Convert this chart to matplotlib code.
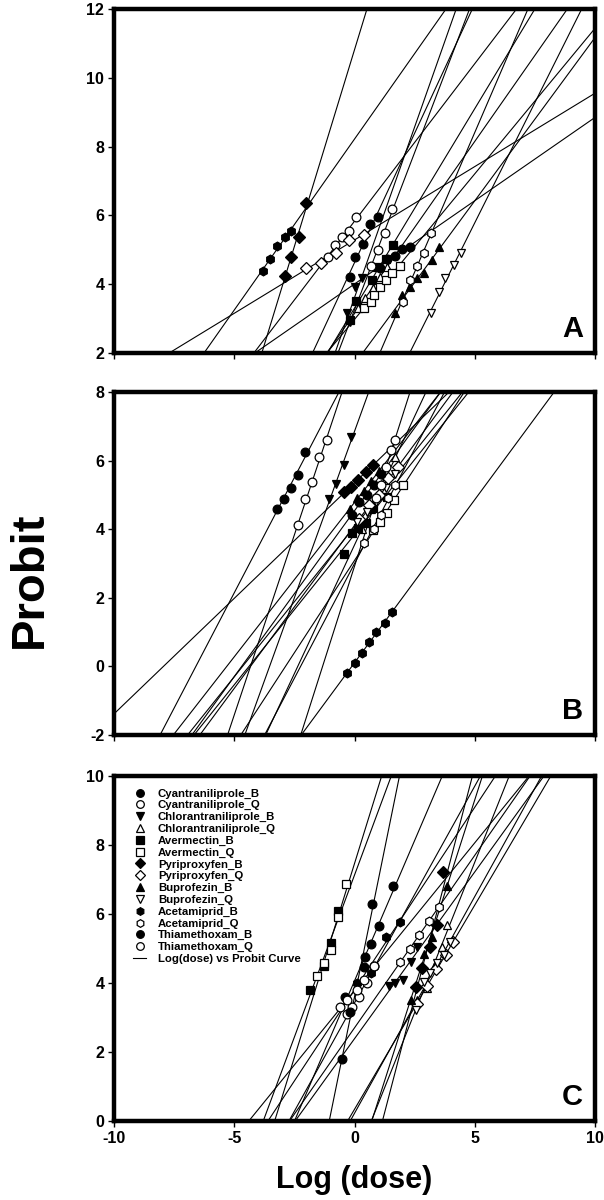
import numpy as np
import matplotlib
matplotlib.use('Agg')
import matplotlib.pyplot as plt
from matplotlib.lines import Line2D

plt.rcParams['font.family'] = ['Liberation Sans', 'DejaVu Sans']
plt.rcParams['font.weight'] = 'bold'
plt.rcParams['axes.unicode_minus'] = False

# series names and marker styles
names = ['Cyantraniliprole_B', 'Cyantraniliprole_Q', 'Chlorantraniliprole_B', 'Chlorantraniliprole_Q',
         'Avermectin_B', 'Avermectin_Q', 'Pyriproxyfen_B', 'Pyriproxyfen_Q',
         'Buprofezin_B', 'Buprofezin_Q', 'Acetamiprid_B', 'Acetamiprid_Q',
         'Thiamethoxam_B', 'Thiamethoxam_Q']
markers = ['o', 'o', 'v', '^', 's', 's', 'D', 'D', '^', 'v', 'h', 'h', 'o', 'o']

# panel A: log(dose) and probit per series
a_x = {
    'Cyantraniliprole_B': [-0.19, 0.04, 0.35, 0.65, 0.96],
    'Cyantraniliprole_Q': [-1.11, -0.80, -0.51, -0.21, 0.08],
    'Chlorantraniliprole_B': [-0.30, -0.17, 0.01, 0.32],
    'Chlorantraniliprole_Q': [0.15, 0.45, 0.75, 1.05, 1.35],
    'Avermectin_B': [-0.19, 0.08, 0.71, 0.94, 1.30, 1.59],
    'Avermectin_Q': [0.39, 0.67, 0.80, 1.08, 1.32, 1.57, 1.88],
    'Pyriproxyfen_B': [-2.91, -2.62, -2.32, -2.00],
    'Pyriproxyfen_Q': [-2.02, -1.41, -0.79, -0.21, 0.39],
    'Buprofezin_B': [1.70, 1.98, 2.30, 2.61, 2.91, 3.23, 3.51],
    'Buprofezin_Q': [3.19, 3.51, 3.78, 4.13, 4.41],
    'Acetamiprid_B': [-3.81, -3.51, -3.21, -2.91, -2.62],
    'Acetamiprid_Q': [2.00, 2.30, 2.61, 2.88, 3.19],
    'Thiamethoxam_B': [1.04, 1.36, 1.70, 1.98, 2.29],
    'Thiamethoxam_Q': [0.67, 0.97, 1.26, 1.57],
}
a_y = {
    'Cyantraniliprole_B': [4.22, 4.78, 5.17, 5.75, 5.94],
    'Cyantraniliprole_Q': [4.80, 5.15, 5.36, 5.55, 5.96],
    'Chlorantraniliprole_B': [3.15, 2.91, 3.93, 4.17],
    'Chlorantraniliprole_Q': [3.30, 3.60, 3.90, 4.20, 4.50],
    'Avermectin_B': [2.96, 3.52, 4.12, 4.51, 4.72, 5.14],
    'Avermectin_Q': [3.30, 3.49, 3.69, 3.91, 4.12, 4.32, 4.53],
    'Pyriproxyfen_B': [4.24, 4.78, 5.36, 6.35],
    'Pyriproxyfen_Q': [4.47, 4.63, 4.90, 5.28, 5.43],
    'Buprofezin_B': [3.17, 3.69, 3.93, 4.17, 4.33, 4.70, 5.07],
    'Buprofezin_Q': [3.15, 3.78, 4.17, 4.56, 4.90],
    'Acetamiprid_B': [4.39, 4.72, 5.11, 5.36, 5.55],
    'Acetamiprid_Q': [3.49, 4.12, 4.53, 4.90, 5.50],
    'Thiamethoxam_B': [4.46, 4.72, 4.82, 5.01, 5.07],
    'Thiamethoxam_Q': [4.53, 4.99, 5.50, 6.18],
}

# panel B
b_x = {
    'Cyantraniliprole_B': [-3.24, -2.94, -2.66, -2.36, -2.05],
    'Cyantraniliprole_Q': [-2.34, -2.04, -1.75, -1.46, -1.15],
    'Chlorantraniliprole_B': [-1.07, -0.75, -0.44, -0.14],
    'Chlorantraniliprole_Q': [0.30, 0.70, 1.00, 1.30, 1.70],
    'Avermectin_B': [-0.44, -0.12, 0.15, 0.46, 0.76, 1.36],
    'Avermectin_Q': [0.78, 1.05, 1.36, 1.66, 2.00],
    'Pyriproxyfen_B': [-0.44, -0.14, 0.15, 0.46, 0.76],
    'Pyriproxyfen_Q': [0.20, 0.60, 1.00, 1.40, 1.80],
    'Buprofezin_B': [-0.20, 0.10, 0.40, 0.70, 1.00],
    'Buprofezin_Q': [0.10, 0.50, 0.90, 1.30, 1.70],
    'Acetamiprid_B': [-0.30, 0.00, 0.30, 0.60, 0.90, 1.26, 1.57],
    'Acetamiprid_Q': [0.40, 0.80, 1.10, 1.40, 1.70],
    'Thiamethoxam_B': [-0.10, 0.20, 0.50, 0.80, 1.10],
    'Thiamethoxam_Q': [0.90, 1.10, 1.30, 1.50, 1.70],
}
b_y = {
    'Cyantraniliprole_B': [4.60, 4.89, 5.21, 5.58, 6.24],
    'Cyantraniliprole_Q': [4.11, 4.87, 5.38, 6.11, 6.60],
    'Chlorantraniliprole_B': [4.87, 5.32, 5.86, 6.70],
    'Chlorantraniliprole_Q': [4.00, 4.60, 5.00, 5.50, 6.10],
    'Avermectin_B': [3.28, 3.90, 4.04, 4.17, 4.61, 4.95],
    'Avermectin_Q': [3.98, 4.22, 4.46, 4.85, 5.30],
    'Pyriproxyfen_B': [5.09, 5.22, 5.43, 5.68, 5.87],
    'Pyriproxyfen_Q': [4.30, 4.70, 5.00, 5.50, 5.80],
    'Buprofezin_B': [4.60, 4.90, 5.10, 5.40, 5.70],
    'Buprofezin_Q': [4.20, 4.50, 4.80, 5.20, 5.60],
    'Acetamiprid_B': [-0.20, 0.10, 0.40, 0.70, 1.00, 1.27, 1.59],
    'Acetamiprid_Q': [3.60, 4.00, 4.40, 4.90, 5.30],
    'Thiamethoxam_B': [4.40, 4.80, 5.00, 5.30, 5.60],
    'Thiamethoxam_Q': [4.90, 5.30, 5.80, 6.30, 6.60],
}

# panel C
c_x = {
    'Cyantraniliprole_B': [-0.39, 0.39, 0.69, 1.00, 1.60],
    'Cyantraniliprole_Q': [-0.30, -0.10, 0.20, 0.50, 0.80],
    'Chlorantraniliprole_B': [1.43, 1.70, 2.02, 2.33, 2.61],
    'Chlorantraniliprole_Q': [2.61, 3.02, 3.30, 3.64, 3.86],
    'Avermectin_B': [-1.86, -1.26, -0.97, -0.68],
    'Avermectin_Q': [-1.55, -1.26, -0.97, -0.68, -0.35],
    'Pyriproxyfen_B': [2.54, 2.81, 3.16, 3.44, 3.69],
    'Pyriproxyfen_Q': [2.60, 3.00, 3.40, 3.80, 4.10],
    'Buprofezin_B': [2.33, 2.91, 3.23, 3.83],
    'Buprofezin_Q': [2.54, 2.88, 3.16, 3.44, 3.71, 3.99],
    'Acetamiprid_B': [0.11, 0.67, 1.29, 1.91],
    'Acetamiprid_Q': [1.90, 2.30, 2.70, 3.10, 3.50],
    'Thiamethoxam_B': [-0.50, -0.19, 0.43, 0.73],
    'Thiamethoxam_Q': [-0.60, -0.30, 0.10, 0.40, 0.80],
}
c_y = {
    'Cyantraniliprole_B': [3.60, 4.47, 5.13, 5.65, 6.81],
    'Cyantraniliprole_Q': [3.10, 3.30, 3.60, 4.00, 4.50],
    'Chlorantraniliprole_B': [3.91, 4.01, 4.09, 4.62, 5.05],
    'Chlorantraniliprole_Q': [3.51, 3.85, 4.47, 5.05, 5.68],
    'Avermectin_B': [3.80, 4.50, 5.15, 6.10],
    'Avermectin_Q': [4.20, 4.57, 4.96, 5.90, 6.87],
    'Pyriproxyfen_B': [3.89, 4.43, 5.05, 5.68, 7.23],
    'Pyriproxyfen_Q': [3.40, 3.90, 4.40, 4.80, 5.20],
    'Buprofezin_B': [3.51, 4.84, 5.34, 6.81],
    'Buprofezin_Q': [3.22, 4.04, 4.28, 4.57, 4.81, 5.20],
    'Acetamiprid_B': [4.01, 4.30, 5.34, 5.78],
    'Acetamiprid_Q': [4.60, 5.00, 5.40, 5.80, 6.20],
    'Thiamethoxam_B': [1.80, 3.17, 4.74, 6.29],
    'Thiamethoxam_Q': [3.30, 3.50, 3.80, 4.10, 4.50],
}

panels = [('A', a_x, a_y, (2, 12)), ('B', b_x, b_y, (-2, 8)), ('C', c_x, c_y, (0, 10))]

fig = plt.figure(figsize=(6.04, 12), dpi=100)
left, width = 114 / 604, 481 / 604
boxes = [(9, 353), (392, 735), (776, 1121)]

xx = np.array([-10.0, 10.0])
for (letter, px, py, ylim), (top, bot) in zip(panels, boxes):
    ax = fig.add_axes([left, 1 - bot / 1200, width, (bot - top) / 1200])
    for name, m in zip(names, markers):
        x = np.array(px[name])
        y = np.array(py[name])
        # probit regression line
        k, b0 = np.polyfit(x, y, 1)
        ax.plot(xx, k * xx + b0, color='black', lw=0.8, zorder=1)
        face = 'black' if name.endswith('_B') else 'white'
        ax.plot(x, y, ls='none', marker=m, ms=6.3, mfc=face, mec='black', mew=0.9, zorder=3)
    ax.set_xlim(-10, 10)
    ax.set_ylim(*ylim)
    ax.set_xticks([-10, -5, 0, 5, 10])
    ax.set_yticks(np.arange(ylim[0], ylim[1] + 1, 2))
    for s in ax.spines.values():
        s.set_linewidth(3.2)
    ax.tick_params(direction='out', length=4, width=1, labelsize=11.5, pad=3)
    if letter != 'C':
        ax.set_xticklabels([])
    ax.text(0.975, 0.03, letter, transform=ax.transAxes, ha='right', va='bottom',
            fontsize=21, fontweight='bold')
    if letter == 'C':
        handles = []
        for name, m in zip(names, markers):
            face = 'black' if name.endswith('_B') else 'white'
            handles.append(Line2D([], [], ls='none', marker=m, ms=5.5, mfc=face, mec='black', mew=0.9))
        handles.append(Line2D([], [], color='black', lw=0.8))
        ax.legend(handles, names + ['Log(dose) vs Probit Curve'], loc='upper left',
                  bbox_to_anchor=(0.02, 0.99), frameon=False, fontsize=8.2,
                  handlelength=1.2, handletextpad=1.0, labelspacing=0.15, borderpad=0.3)

fig.text(30 / 604, 1 - 580 / 1200, 'Probit', rotation=90, ha='center', va='center',
         fontsize=34, fontweight='bold')
fig.text(354 / 604, 1 - 1180 / 1200, 'Log (dose)', ha='center', va='center',
         fontsize=22, fontweight='bold')

fig.savefig('out.png', dpi=100)
